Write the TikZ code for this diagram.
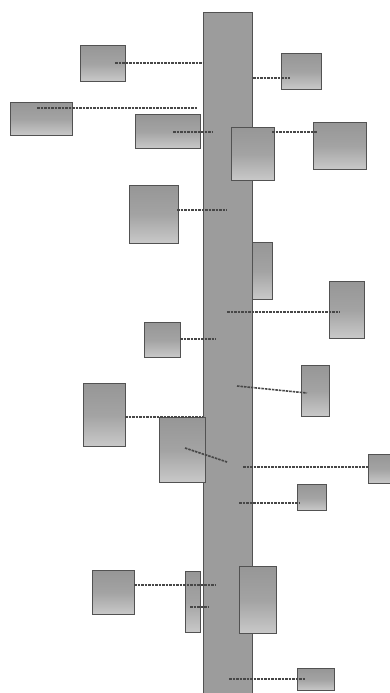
\documentclass[tikz,border=0pt]{standalone}
\begin{document}
\begin{tikzpicture}[x=1pt,y=-1pt,
  bx/.style={draw=black!68,line width=1.2pt,inner sep=0pt,anchor=north west,top color=gray!82,bottom color=gray!42,middle color=gray!72,shading angle=0},
  barstyle/.style={draw=black!68,line width=1.2pt,fill=gray!78,inner sep=0pt,anchor=north west},
  ln/.style={draw=black!72,line width=1.6pt,dash pattern=on 2.5pt off 1pt}]
\useasboundingbox (0,0) rectangle (390,693);
\newcommand{\bxx}[5]{\node[bx,minimum width=#4pt,minimum height=#5pt] (#1) at (#2,#3) {};}
\node[barstyle,minimum width=49pt,minimum height=690pt] (bar) at (203,12) {};
\bxx{A}{80}{45}{45}{36}
\bxx{B}{281}{53}{40}{36}
\bxx{C}{10}{102}{62}{33}
\bxx{D}{135}{114}{65}{34}
\bxx{E}{231}{127}{43}{53}
\bxx{F}{313}{122}{53}{47}
\bxx{G}{129}{185}{49}{58}
\bxx{H}{252}{242}{20}{57}
\bxx{I}{329}{281}{35}{57}
\bxx{J}{144}{322}{36}{35}
\bxx{K}{301}{365}{28}{51}
\bxx{L}{83}{383}{42}{63}
\bxx{M}{159}{417}{46}{65}
\bxx{N}{368}{454}{24}{29}
\bxx{O}{297}{484}{29}{26}
\bxx{P}{92}{570}{42}{44}
\bxx{Q}{185}{571}{15}{61}
\bxx{R}{239}{566}{37}{67}
\bxx{S}{297}{668}{37}{22}
\coordinate (a1) at (115,63);  \coordinate (a2) at (203,63);
\coordinate (b1) at (253,78);  \coordinate (b2) at (290,78);
\coordinate (c1) at (37,108);  \coordinate (c2) at (198,108);
\coordinate (d1) at (173,132); \coordinate (d2) at (212,132);
\coordinate (e1) at (272,132); \coordinate (e2) at (317,132);
\coordinate (g1) at (177,210); \coordinate (g2) at (227,210);
\coordinate (i1) at (227,312); \coordinate (i2) at (340,312);
\coordinate (j1) at (180,339); \coordinate (j2) at (216,339);
\coordinate (k1) at (237,386); \coordinate (k2) at (307,393);
\coordinate (l1) at (125,417); \coordinate (l2) at (203,417);
\coordinate (m1) at (185,448); \coordinate (m2) at (227,462);
\coordinate (n1) at (243,467); \coordinate (n2) at (368,467);
\coordinate (o1) at (239,503); \coordinate (o2) at (300,503);
\coordinate (p1) at (134,585); \coordinate (p2) at (215,585);
\coordinate (q1) at (190,607); \coordinate (q2) at (208,607);
\coordinate (s1) at (229,679); \coordinate (s2) at (305,679);
\foreach \u/\v in {a1/a2,b1/b2,c1/c2,d1/d2,e1/e2,g1/g2,i1/i2,j1/j2,k1/k2,l1/l2,m1/m2,n1/n2,o1/o2,p1/p2,q1/q2,s1/s2}
  \draw[ln] (\u) -- (\v);
\end{tikzpicture}
\end{document}
